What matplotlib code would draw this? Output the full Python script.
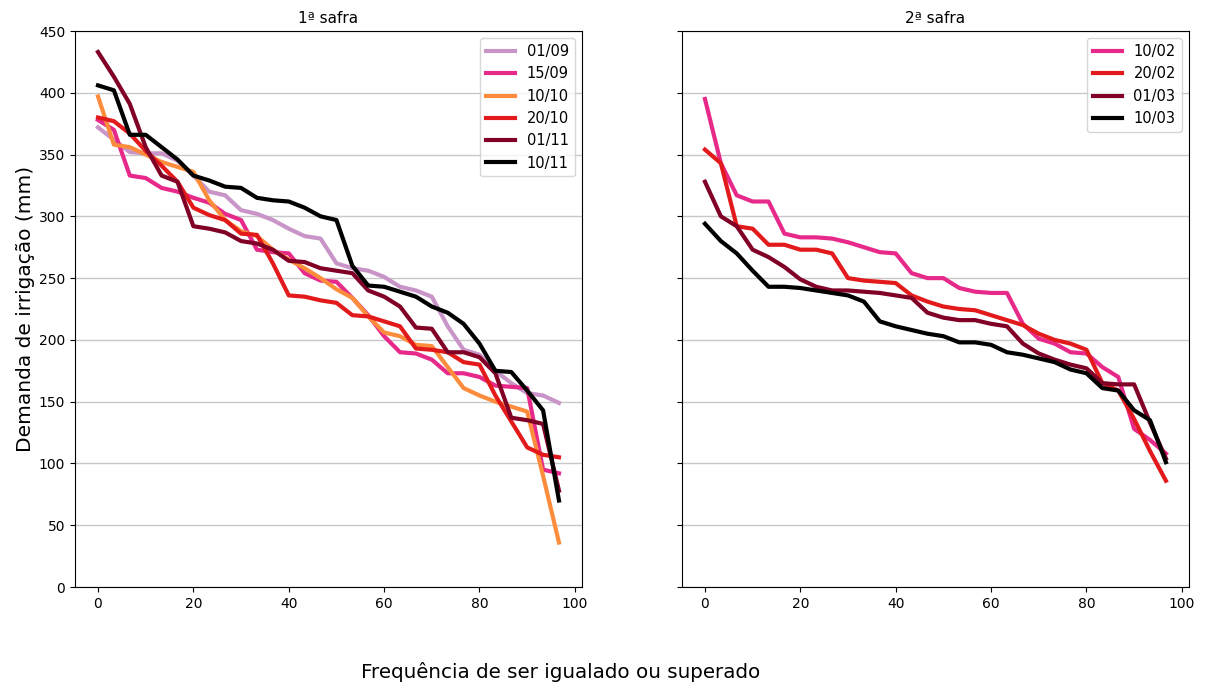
import matplotlib
matplotlib.use("Agg")
import matplotlib.pyplot as plt
import numpy as np

freq = [i * 100 / 30 for i in range(30)]

labels_1 = ["01/09", "15/09", "10/10", "20/10", "01/11", "10/11"]
s_0109 = [372, 362, 352, 351, 351, 345, 333, 320, 317, 305, 302, 297, 290, 284, 282,
          262, 258, 256, 251, 243, 240, 235, 211, 192, 188, 175, 165, 157, 155, 149]
s_1509 = [378, 370, 333, 331, 323, 320, 315, 311, 302, 297, 273, 271, 270, 254, 248,
          247, 234, 220, 203, 190, 189, 184, 173, 173, 170, 163, 162, 161, 95, 92]
s_1010 = [397, 358, 356, 350, 344, 340, 336, 313, 297, 288, 284, 273, 265, 258, 250,
          241, 234, 219, 206, 203, 196, 195, 178, 161, 155, 150, 146, 142, 90, 36]
s_2010 = [380, 377, 367, 353, 341, 328, 307, 301, 297, 286, 285, 262, 236, 235, 232,
          230, 220, 219, 215, 211, 193, 192, 190, 182, 180, 155, 134, 113, 107, 105]
s_0111 = [433, 413, 391, 356, 333, 328, 292, 290, 287, 280, 278, 273, 264, 263, 258,
          256, 254, 240, 235, 227, 210, 209, 190, 190, 186, 173, 137, 135, 132, 78]
s_1011 = [406, 402, 366, 366, 356, 346, 333, 329, 324, 323, 315, 313, 312, 307, 300,
          297, 260, 244, 243, 239, 235, 227, 222, 213, 197, 175, 174, 159, 143, 70]

labels_2 = ["10/02", "20/02", "01/03", "10/03"]
s_1002 = [395, 343, 317, 312, 312, 286, 283, 283, 282, 279, 275, 271, 270, 254, 250,
          250, 242, 239, 238, 238, 213, 201, 197, 190, 189, 178, 170, 128, 119, 108]
s_2002 = [354, 343, 292, 290, 277, 277, 273, 273, 270, 250, 248, 247, 246, 236, 231,
          227, 225, 224, 220, 216, 212, 205, 200, 197, 192, 165, 159, 136, 110, 86]
s_0103 = [328, 300, 292, 273, 267, 259, 249, 243, 240, 240, 239, 238, 236, 234, 222,
          218, 216, 216, 213, 211, 197, 189, 184, 180, 177, 165, 164, 164, 133, 104]
s_1003 = [294, 280, 270, 256, 243, 243, 242, 240, 238, 236, 231, 215, 211, 208, 205,
          203, 198, 198, 196, 190, 188, 185, 182, 176, 173, 161, 159, 143, 135, 101]

colors_1 = ["#c994c7", "#e7298a", "#fd8d3c", "#e31a1c", "#800026", "#000000"]
colors_2 = ["#e7298a", "#e31a1c", "#800026", "#000000"]

series_1 = [s_0109, s_1509, s_1010, s_2010, s_0111, s_1011]
series_2 = [s_1002, s_2002, s_0103, s_1003]

fig, axes = plt.subplots(1, 2, figsize=(12.05, 6.86), dpi=100, sharey=True)
fig.subplots_adjust(left=0.0622, right=0.9867, top=0.9548, bottom=0.1443, wspace=0.197)

for ax, series, labels, colors, title in [
    (axes[0], series_1, labels_1, colors_1, "1ª safra"),
    (axes[1], series_2, labels_2, colors_2, "2ª safra"),
]:
    for s, lab, c in zip(series, labels, colors):
        ax.plot(freq, s, color=c, lw=3, label=lab)
    ax.set_title(title, fontsize=11)
    ax.grid(axis="y", color="#c8c8c8", lw=1)
    ax.set_axisbelow(True)
    ax.set_ylim(0, 450)
    ax.set_yticks(np.arange(0, 451, 50))
    ax.set_xticks([0, 20, 40, 60, 80, 100])
    ax.tick_params(labelsize=10)
    ax.legend(loc="upper right", fontsize=10.5)

axes[0].set_ylabel("Demanda de irrigação (mm)", fontsize=14.5, labelpad=3)
fig.text(0.465, 0.02, "Frequência de ser igualado ou superado", fontsize=14.3,
         ha="center", va="center")

fig.savefig("out.png", dpi=100)
